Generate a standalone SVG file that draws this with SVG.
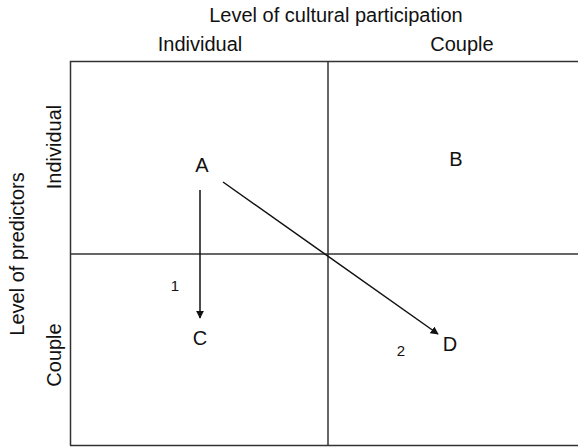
<svg xmlns="http://www.w3.org/2000/svg" width="578" height="447" viewBox="0 0 578 447">
<style>
text{font-family:"Liberation Sans",Arial,sans-serif;fill:#111}
.h{font-size:20px}
.n{font-size:15px}
.g{stroke:#333;stroke-width:1.5;fill:none}
.c{stroke:#111;stroke-width:1.5;fill:none}
</style>
<defs>
<marker id="ah" viewBox="0 0 10 10" refX="9" refY="5" markerWidth="8" markerHeight="8" markerUnits="userSpaceOnUse" orient="auto">
<path d="M0,0 L10,5 L0,10 z" fill="#111"/>
</marker>
</defs>
<rect width="578" height="447" fill="#fff"/>
<g id="grid">
<path class="g" d="M70.5,445.5 V61.5 H580"/>
<path class="g" d="M70,445.5 H580"/>
<path class="g" d="M328,61 V446"/>
<path class="g" d="M70,254 H580"/>
</g>
<g id="labels">
<text class="h" x="336" y="22" text-anchor="middle">Level of cultural participation</text>
<text class="h" x="200" y="51" text-anchor="middle">Individual</text>
<text class="h" x="462" y="51" text-anchor="middle">Couple</text>
<text class="h" transform="translate(24,254) rotate(-90)" text-anchor="middle">Level of predictors</text>
<text class="h" transform="translate(61,147) rotate(-90)" text-anchor="middle">Individual</text>
<text class="h" transform="translate(61,355) rotate(-90)" text-anchor="middle">Couple</text>
</g>
<g id="nodeA"><text class="h" x="202" y="172" text-anchor="middle">A</text></g>
<g id="nodeB"><text class="h" x="456" y="166" text-anchor="middle">B</text></g>
<g id="nodeC"><text class="h" x="200" y="345" text-anchor="middle">C</text></g>
<g id="nodeD"><text class="h" x="450" y="351" text-anchor="middle">D</text></g>
<g id="connectors">
<path class="c" d="M200,190 V318" marker-end="url(#ah)"/>
<path class="c" d="M223,182 L438,334" marker-end="url(#ah)"/>
<text class="n" x="175" y="291" text-anchor="middle">1</text>
<text class="n" x="401" y="356" text-anchor="middle">2</text>
</g>
</svg>
